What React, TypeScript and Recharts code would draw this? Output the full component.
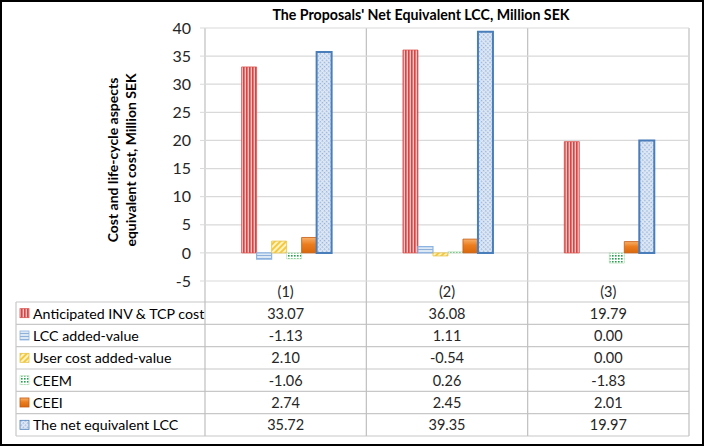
import React from 'react';
import { BarChart, Bar, XAxis, YAxis, CartesianGrid } from 'recharts';

const categories = ['(1)', '(2)', '(3)'];
const seriesNames = [
  'Anticipated INV & TCP cost',
  'LCC added-value',
  'User cost added-value',
  'CEEM',
  'CEEI',
  'The net equivalent LCC',
];
const anticipated = [33.07, 36.08, 19.79];
const lccAdded = [-1.13, 1.11, 0.0];
const userCost = [2.1, -0.54, 0.0];
const ceem = [-1.06, 0.26, -1.83];
const ceei = [2.74, 2.45, 2.01];
const netLcc = [35.72, 39.35, 19.97];
const yTicks = [-5, 0, 5, 10, 15, 20, 25, 30, 35, 40];

const seriesValues = [anticipated, lccAdded, userCost, ceem, ceei, netLcc];
const keys = ['s0', 's1', 's2', 's3', 's4', 's5'];
const fills = ['url(#pRed)', 'url(#pBlueH)', 'url(#pYellow)', 'url(#pGreen)', 'url(#gOrange)', 'url(#pNet)'];
const strokes = ['#d9534f', '#8db3e2', '#e6c34a', '#c8e6c9', '#c55a11', '#4a7ebb'];
const strokeW = [0.8, 1.2, 0.8, 0.8, 0.8, 2];

const data = categories.map((c, i) => {
  const row: any = { name: c };
  keys.forEach((k, j) => (row[k] = seriesValues[j][i]));
  return row;
});

const W = 705;
const H = 447;
const PLOT_L = 205;
const PLOT_R = 689;
const PLOT_T = 28;
const PLOT_B = 281;
const TABLE_L = 16;
const TABLE_T = 302;
const ROW_H = 22.33;
const FONT = 'Lato, "Open Sans", sans-serif';

function ColumnTick(props: any) {
  const { x, y, payload } = props;
  const i = payload.index;
  return (
    <g>
      <text x={x} y={y + 10} textAnchor="middle" dominantBaseline="central" fontSize={14.5} fill="#262626" fontFamily={FONT}>
        {payload.value}
      </text>
      {seriesValues.map((vals, j) => (
        <text key={j} x={x} y={TABLE_T + ROW_H * j + ROW_H / 2} textAnchor="middle" dominantBaseline="central" fontSize={14.5} fill="#262626" fontFamily={FONT}>
          {vals[i].toFixed(2)}
        </text>
      ))}
    </g>
  );
}

function Overlay() {
  const colW = (PLOT_R - PLOT_L) / categories.length;
  const rows = seriesNames.length;
  const tableB = TABLE_T + ROW_H * rows;
  return (
    <svg width={W} height={H} style={{ position: 'absolute', left: 0, top: 0 }}>
      <defs>
        <pattern id="pRed" width="3" height="4" patternUnits="userSpaceOnUse">
          <rect width="3" height="4" fill="#f7c4c4" />
          <rect width="1.6" height="4" fill="#d94343" />
        </pattern>
        <pattern id="pBlueH" width="4" height="3" patternUnits="userSpaceOnUse">
          <rect width="4" height="3" fill="#dde8f5" />
          <rect width="4" height="1" fill="#8fb0d9" />
        </pattern>
        <pattern id="pYellow" width="4" height="4" patternUnits="userSpaceOnUse" patternTransform="rotate(45)">
          <rect width="4" height="4" fill="#fff4c8" />
          <rect width="2" height="4" fill="#f5c93a" />
        </pattern>
        <pattern id="pGreen" width="3" height="3" patternUnits="userSpaceOnUse">
          <rect width="3" height="3" fill="#ffffff" />
          <rect width="1.6" height="1.6" fill="#22a04b" />
        </pattern>
        <linearGradient id="gOrange" x1="0" y1="0" x2="0" y2="1">
          <stop offset="0%" stopColor="#f8b06a" />
          <stop offset="45%" stopColor="#ec7d1f" />
          <stop offset="100%" stopColor="#d8680c" />
        </linearGradient>
        <pattern id="pNet" width="3" height="3" patternUnits="userSpaceOnUse" patternTransform="rotate(45)">
          <rect width="3" height="3" fill="#dfe8f5" />
          <rect width="1.4" height="1.4" fill="#8fafd9" />
        </pattern>
      </defs>
      <rect x={1} y={1} width={W - 3} height={H - 3} fill="#fff" stroke="#000" strokeWidth={2} />
      <text x={421} y={14} textAnchor="middle" dominantBaseline="central" fontSize={14.2} fontWeight="bold" fontFamily={FONT} fill="#000">
        The Proposals' Net Equivalent LCC, Million SEK
      </text>
      <g transform={`translate(121, 160) rotate(-90)`} fontFamily={FONT} fontWeight="bold" fontSize={14} fill="#000" textAnchor="middle">
        <text x={0} y={-9} dominantBaseline="central">Cost and life-cycle aspects</text>
        <text x={0} y={9} dominantBaseline="central">equivalent cost, Million SEK</text>
      </g>
      {/* table frame */}
      {Array.from({ length: rows + 1 }).map((_, r) => (
        <line key={r} x1={TABLE_L} x2={PLOT_R} y1={TABLE_T + ROW_H * r} y2={TABLE_T + ROW_H * r} stroke="#c8c8c8" strokeWidth={1.2} />
      ))}
      <line x1={TABLE_L} x2={TABLE_L} y1={TABLE_T} y2={tableB} stroke="#c8c8c8" strokeWidth={1.2} />
      {Array.from({ length: categories.length + 1 }).map((_, c) => (
        <line key={c} x1={PLOT_L + colW * c} x2={PLOT_L + colW * c} y1={PLOT_T} y2={tableB} stroke="#bfbfbf" strokeWidth={1.2} />
      ))}
      {seriesNames.map((n, j) => {
        const cy = TABLE_T + ROW_H * j + ROW_H / 2;
        return (
          <g key={n}>
            <rect x={20} y={cy - 4.5} width={9} height={9} fill={fills[j]} stroke={strokes[j]} strokeWidth={0.8} />
            <text x={33} y={cy} dominantBaseline="central" fontSize={14.2} fontFamily={FONT} fill="#000">{n}</text>
          </g>
        );
      })}
    </svg>
  );
}

export default function App() {
  return (
    <div style={{ position: 'absolute', left: 0, top: 0, width: W, height: H }}>
      <Overlay />
      <div style={{ position: 'absolute', left: 0, top: 0 }}>
        <BarChart
          width={W}
          height={H}
          data={data}
          margin={{ top: PLOT_T, right: W - PLOT_R, left: 0, bottom: 0 }}
          barCategoryGap="22.7%"
          barGap={0}
        >
          <CartesianGrid vertical={false} stroke="#d9d9d9" strokeWidth={1.2} />
          <XAxis
            dataKey="name"
            height={H - PLOT_B}
            axisLine={false}
            tickLine={false}
            tickSize={0}
            tickMargin={0}
            interval={0}
            tick={<ColumnTick />}
          />
          <YAxis
            width={PLOT_L}
            domain={[-5, 40]}
            ticks={yTicks}
            interval={0}
            axisLine={false}
            tickLine={{ stroke: '#d9d9d9' }}
            tickSize={5}
            tickMargin={9}
            tick={{ fill: '#262626', fontSize: 16, fontFamily: FONT }}
          />
          {keys.map((k, j) => (
            <Bar
              key={k}
              dataKey={k}
              name={seriesNames[j]}
              fill={fills[j]}
              stroke={strokes[j]}
              strokeWidth={strokeW[j]}
              isAnimationActive={false}
            />
          ))}
        </BarChart>
      </div>
    </div>
  );
}
